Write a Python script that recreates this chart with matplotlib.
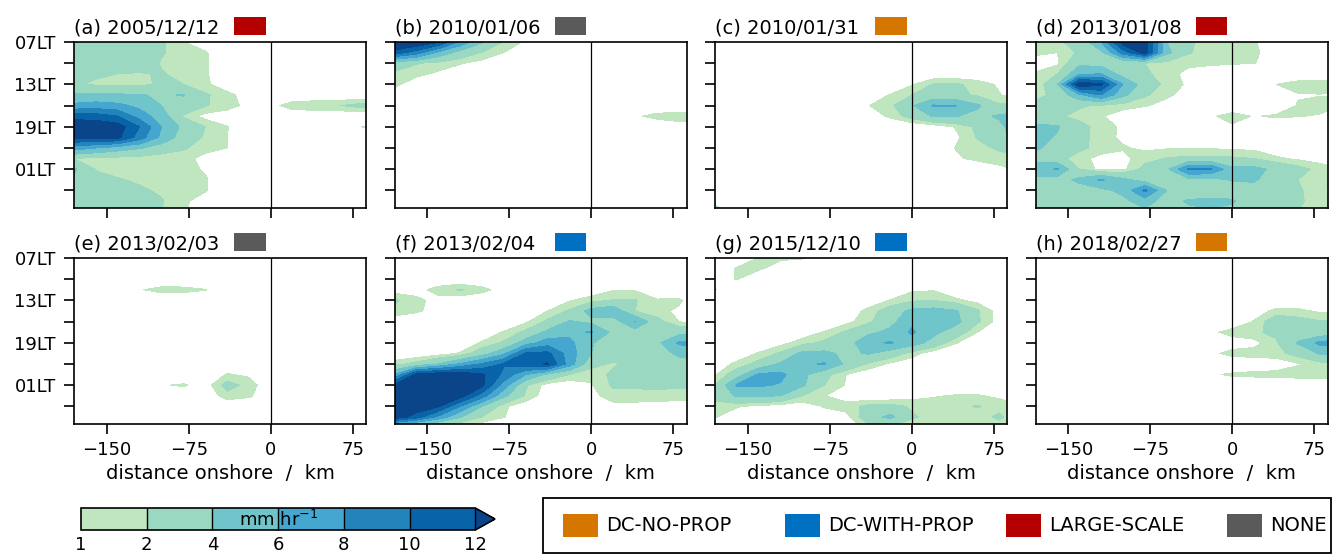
import numpy as np
import matplotlib
matplotlib.use("Agg")
import matplotlib.pyplot as plt
from matplotlib.colors import ListedColormap, BoundaryNorm
from matplotlib.patches import Rectangle

# grid: distance onshore (km) and local time (hours after 00LT, 25 = 01LT next day)
dist = [-180, -160, -140, -120, -100, -80, -60, -40, -20, 0, 20, 40, 60, 80, 90]
hours = [7, 8.5, 10, 11.5, 13, 14.5, 16, 17.5, 19, 20.5, 22, 23.5, 25, 26.5, 28, 29.5, 31]

titles = ["(a) 2005/12/12", "(b) 2010/01/06", "(c) 2010/01/31", "(d) 2013/01/08",
          "(e) 2013/02/03", "(f) 2013/02/04", "(g) 2015/12/10", "(h) 2018/02/27"]
case_type = ["LARGE-SCALE", "NONE", "DC-NO-PROP", "LARGE-SCALE",
             "NONE", "DC-WITH-PROP", "DC-WITH-PROP", "DC-NO-PROP"]
type_names = ["DC-NO-PROP", "DC-WITH-PROP", "LARGE-SCALE", "NONE"]
type_colors = ["#d47600", "#0070c2", "#b50000", "#5a5a5a"]

levels = [1, 2, 4, 6, 8, 10, 12]
ytick_vals = [7, 10, 13, 16, 19, 22, 25, 28]
ytick_labels = ["07LT", "", "13LT", "", "19LT", "", "01LT", ""]
xtick_vals = [-150, -75, 0, 75]

# rain rate (mm/hr), rows = hours, cols = dist
rain_a = [
    [2.5, 3.0, 3.0, 3.0, 2.2, 1.05, 0.4, 0, 0, 0, 0, 0, 0, 0, 0],
    [3.0, 3.0, 3.2, 3.0, 2.1, 1.6, 1.1, 0.3, 0, 0, 0, 0, 0, 0, 0],
    [3.0, 3.0, 3.0, 2.8, 1.9, 1.5, 1.1, 0.4, 0, 0, 0, 0, 0, 0, 0],
    [2.5, 2.2, 2.0, 1.9, 2.1, 1.6, 1.1, 0.4, 0, 0, 0, 0, 0, 0, 0],
    [2.2, 1.8, 1.6, 1.7, 2.2, 2.0, 1.2, 0.4, 0, 0, 0, 0, 0, 0, 0],
    [4.2, 4.5, 4.3, 4.1, 3.8, 4.1, 2.2, 1.3, 0.5, 0, 0, 0, 0, 0, 0],
    [6.5, 6.8, 6.5, 5.5, 4.0, 3.2, 2.1, 1.5, 0.6, 0.6, 1.6, 1.8, 1.9, 2.4, 2.6],
    [11, 11, 10, 7, 5, 1.8, 0.6, 0.3, 0, 0, 0, 0, 0, 0, 0],
    [14, 13.5, 13, 10, 6, 3.5, 2.0, 1.05, 0.3, 0, 0, 0, 0, 0.9, 1.2],
    [12.5, 12.5, 12.5, 9, 5.5, 3.0, 1.8, 1.0, 0.3, 0, 0, 0, 0, 0, 0],
    [7, 6, 5, 4.2, 3.0, 2.2, 1.3, 1.0, 0.2, 0, 0, 0, 0, 0, 0],
    [1.9, 1.6, 1.5, 1.4, 1.2, 1.3, 0.7, 0, 0, 0, 0, 0, 0, 0, 0],
    [4.3, 1.9, 1.6, 1.5, 1.4, 1.3, 0.9, 0.2, 0, 0, 0, 0, 0, 0, 0],
    [3.6, 2.5, 2.1, 1.8, 1.5, 1.4, 1.1, 0.3, 0, 0, 0, 0, 0, 0, 0],
    [3.0, 2.8, 2.5, 2.2, 1.8, 1.5, 1.1, 0.3, 0, 0, 0, 0, 0, 0, 0],
    [3.5, 3.0, 2.8, 2.5, 2.1, 1.2, 0.5, 0, 0, 0, 0, 0, 0, 0, 0],
    [4.2, 3.0, 2.8, 2.4, 2.0, 1.1, 0.4, 0, 0, 0, 0, 0, 0, 0, 0],
]
rain_b = [
    [15, 14, 12.2, 7.5, 4.2, 1.8, 0.8, 0, 0, 0, 0, 0, 0, 0, 0],
    [11, 9, 5.5, 3.2, 1.9, 1.0, 0.2, 0, 0, 0, 0, 0, 0, 0, 0],
    [3.0, 2.1, 1.6, 1.1, 0.6, 0, 0, 0, 0, 0, 0, 0, 0, 0, 0],
    [1.7, 1.3, 0.8, 0.3, 0, 0, 0, 0, 0, 0, 0, 0, 0, 0, 0],
    [1.3, 0.3, 0, 0, 0, 0, 0, 0, 0, 0, 0, 0, 0, 0, 0],
    [0.2, 0, 0, 0, 0, 0, 0, 0, 0, 0, 0, 0, 0, 0, 0],
    [0, 0, 0, 0, 0, 0, 0, 0, 0, 0, 0, 0, 0, 0, 0],
    [0, 0, 0, 0, 0, 0, 0, 0, 0, 0, 0, 0.8, 1.4, 1.5, 1.5],
    [0, 0, 0, 0, 0, 0, 0, 0, 0, 0, 0, 0, 0, 0.5, 0.6],
    [0, 0, 0, 0, 0, 0, 0, 0, 0, 0, 0, 0, 0, 0, 0],
    [0, 0, 0, 0, 0, 0, 0, 0, 0, 0, 0, 0, 0, 0, 0],
    [0, 0, 0, 0, 0, 0, 0, 0, 0, 0, 0, 0, 0, 0, 0],
    [0, 0, 0, 0, 0, 0, 0, 0, 0, 0, 0, 0, 0, 0, 0],
    [0, 0, 0, 0, 0, 0, 0, 0, 0, 0, 0, 0, 0, 0, 0],
    [0, 0, 0, 0, 0, 0, 0, 0, 0, 0, 0, 0, 0, 0, 0],
    [0.3, 0, 0, 0, 0, 0, 0, 0, 0, 0, 0, 0, 0, 0, 0],
    [1.4, 0.4, 0, 0, 0, 0, 0, 0, 0, 0, 0, 0, 0, 0, 0],
]
rain_c = [
    [0, 0, 0, 0, 0, 0, 0, 0, 0, 0, 0, 0, 0, 0, 0],
    [0, 0, 0, 0, 0, 0, 0, 0, 0, 0, 0, 0, 0, 0, 0],
    [0, 0, 0, 0, 0, 0, 0, 0, 0, 0, 0, 0, 0, 0, 0],
    [0, 0, 0, 0, 0, 0, 0, 0, 0, 0, 0, 0, 0, 0, 0],
    [0, 0, 0, 0, 0, 0, 0, 0, 0, 0.9, 2.1, 2.2, 1.6, 0.8, 0.5],
    [0, 0, 0, 0, 0, 0, 0, 0.3, 1.05, 2.0, 2.6, 2.4, 1.8, 1.1, 0.6],
    [0, 0, 0, 0, 0, 0, 0, 0.95, 1.6, 3.8, 6.2, 6.1, 4.3, 2.2, 2.3],
    [0, 0, 0, 0, 0, 0, 0, 0.3, 1.2, 2.6, 4.2, 4.1, 3.4, 4.3, 4.6],
    [0, 0, 0, 0, 0, 0, 0, 0, 0, 0, 0.3, 1.1, 2.3, 3.5, 4.5],
    [0, 0, 0, 0, 0, 0, 0, 0, 0, 0, 0, 0.7, 2.1, 3.2, 4.2],
    [0, 0, 0, 0, 0, 0, 0, 0, 0, 0, 0, 1.05, 1.6, 2.2, 2.5],
    [0, 0, 0, 0, 0, 0, 0, 0, 0, 0, 0, 0.8, 1.3, 1.5, 1.6],
    [0, 0, 0, 0, 0, 0, 0, 0, 0, 0, 0, 0, 0, 0.7, 0.95],
    [0, 0, 0, 0, 0, 0, 0, 0, 0, 0, 0, 0, 0, 0, 0],
    [0, 0, 0, 0, 0, 0, 0, 0, 0, 0, 0, 0, 0, 0, 0],
    [0.7, 0, 0, 0, 0, 0, 0, 0, 0, 0, 0, 0, 0, 0, 0],
    [1.5, 0.5, 0, 0, 0, 0, 0, 0, 0, 0, 0, 0, 0, 0, 0],
]
rain_d = [
    [1.5, 1.8, 2.5, 6, 13, 13, 4, 2.2, 1.5, 1.2, 1.1, 0.3, 0, 0, 0],
    [1.2, 1.0, 2.2, 3.5, 9, 13, 4.5, 2.1, 1.5, 1.3, 1.2, 0.4, 0, 0, 0],
    [0.5, 0.8, 3.5, 3.2, 2.2, 2.0, 1.6, 1.3, 1.2, 1.1, 1.05, 0.3, 0, 0, 0],
    [1.1, 2.0, 5.5, 6, 3, 2.2, 1.5, 0.6, 0.3, 0, 0, 0, 0, 0, 0],
    [0.8, 4.0, 13.5, 12.5, 6, 3.0, 1.6, 0.8, 0, 0, 0, 1.0, 1.5, 1.6, 1.5],
    [1.5, 2.5, 5.5, 8, 4.5, 2.2, 1.2, 0.6, 0, 0, 0, 0.5, 0.9, 0.95, 0.9],
    [2.5, 2.3, 2.2, 1.8, 1.4, 1.1, 0.6, 0, 0, 0, 0, 0, 1.1, 1.4, 1.3],
    [2.6, 2.2, 1.6, 1.1, 0.4, 0, 0, 0, 0.8, 1.5, 0.9, 1.2, 1.05, 0.9, 0.5],
    [4.5, 4.2, 2.5, 1.5, 0.8, 0.3, 0, 0, 0, 0.8, 0, 0, 0, 0, 0],
    [4.6, 3.8, 2.5, 1.4, 0.8, 0.5, 0, 0, 0, 0, 0, 0, 0, 0, 0],
    [4.2, 3.5, 2.3, 1.6, 1.1, 0.8, 0.9, 0.9, 0.9, 0.8, 0.7, 0.3, 0, 0, 0],
    [3.5, 2.5, 1.4, 0.6, 0.7, 1.5, 2.1, 2.3, 2.3, 2.2, 2.0, 1.2, 0.8, 0.5, 0.3],
    [5, 6.2, 2.0, 0.6, 0.7, 2.5, 3.5, 8.3, 8.2, 4.5, 4.6, 3.5, 2.5, 1.6, 1.3],
    [3.5, 3, 4.5, 6.3, 4.5, 3, 3.2, 3.5, 3.2, 4.2, 4.3, 2.5, 2, 1.5, 1.0],
    [3, 2.5, 3, 3.5, 4.5, 8.5, 4, 2.2, 2.5, 3, 3, 2.5, 2.2, 1.3, 0.8],
    [3, 2.5, 2.5, 3, 3.5, 5, 3, 4.3, 4.5, 4.2, 2.8, 2.5, 2.2, 1.5, 0.9],
    [2.5, 2.4, 2.5, 2.8, 3, 3.5, 3, 3.5, 3.8, 3.5, 2.6, 2.3, 2, 1.4, 0.9],
]
rain_e = [
    [0, 0, 0, 0, 0, 0, 0, 0, 0, 0, 0, 0, 0, 0, 0],
    [0, 0, 0, 0, 0, 0, 0, 0, 0, 0, 0, 0, 0, 0, 0],
    [0, 0, 0, 0, 0, 0, 0, 0, 0, 0, 0, 0, 0, 0, 0],
    [0, 0, 0, 0.9, 1.4, 1.35, 1.05, 0.4, 0, 0, 0, 0, 0, 0, 0],
    [0, 0, 0, 0, 0, 0, 0, 0, 0, 0, 0, 0, 0, 0, 0],
    [0, 0, 0, 0, 0, 0, 0, 0, 0, 0, 0, 0, 0, 0, 0],
    [0, 0, 0, 0, 0, 0, 0, 0, 0, 0, 0, 0, 0, 0, 0],
    [0, 0, 0, 0, 0, 0, 0, 0, 0, 0, 0, 0, 0, 0, 0],
    [0, 0, 0, 0, 0, 0, 0, 0, 0, 0, 0, 0, 0, 0, 0],
    [0, 0, 0, 0, 0, 0, 0, 0, 0, 0, 0, 0, 0, 0, 0],
    [0, 0, 0, 0, 0, 0, 0, 0, 0, 0, 0, 0, 0, 0, 0],
    [0, 0, 0, 0, 0, 0, 0, 1.1, 0.8, 0, 0, 0, 0, 0, 0],
    [0, 0, 0, 0, 0.9, 1.15, 0.4, 2.5, 1.6, 0, 0, 0, 0, 0, 0],
    [0, 0, 0, 0, 0, 0, 0, 1.6, 1.2, 0, 0, 0, 0, 0, 0],
    [0, 0, 0, 0, 0, 0, 0, 0, 0, 0, 0, 0, 0, 0, 0],
    [0, 0, 0, 0, 0, 0, 0, 0, 0, 0, 0, 0, 0, 0, 0],
    [0, 0, 0, 0, 0, 0, 0, 0, 0, 0, 0, 0, 0, 0, 0],
]
rain_f = [
    [0, 0, 0, 0, 0, 0, 0, 0, 0, 0, 0, 0, 0, 0, 0],
    [0, 0, 0, 0, 0, 0, 0, 0, 0, 0, 0, 0, 0, 0, 0],
    [0, 0, 0, 0, 0, 0, 0, 0, 0, 0, 0, 0, 0, 0, 0],
    [0.4, 0.5, 1.5, 2.1, 1.4, 0.4, 0, 0, 0, 0.3, 0.9, 0.9, 0.3, 0, 0],
    [2.2, 1.3, 0.6, 0.2, 0, 0, 0, 0.3, 0.9, 1.5, 2.1, 2.1, 1.1, 1.2, 0.6],
    [1.6, 1.2, 0.5, 0, 0, 0, 0.3, 1.0, 2.2, 4.8, 5.5, 2.0, 1.3, 0.8, 0.3],
    [0.3, 0, 0, 0, 0, 0, 0.8, 2.3, 4.2, 3.5, 3, 6.1, 2.5, 1.0, 0.5],
    [0, 0, 0, 0, 0.3, 1.1, 2.3, 4.5, 5.5, 6.2, 3.5, 3, 2.5, 3.2, 3.5],
    [0, 0, 0, 0.3, 1.1, 2.2, 5.0, 7, 6.5, 4.2, 2.5, 1.9, 3.5, 6.3, 6.5],
    [0, 0, 0.4, 1.1, 3, 5.5, 10.3, 10.5, 7, 4, 3, 2.6, 2.8, 4.5, 5],
    [1.5, 2.5, 4.0, 6.2, 8.2, 10.2, 11, 12.2, 7, 2.5, 1.8, 2.5, 3, 3, 3],
    [6, 12.5, 13.5, 13.5, 12.3, 9.5, 6, 3.5, 2.0, 1.3, 2.3, 2.5, 2.5, 2.5, 2.5],
    [12.5, 14, 14.5, 14, 12.5, 7, 2.2, 0.5, 0.2, 0.9, 2.2, 2.2, 2.3, 2.2, 2.2],
    [14.5, 14.5, 14, 13, 9, 4.5, 1.8, 0.3, 0, 0.6, 1.6, 1.6, 1.6, 1.5, 1.5],
    [14, 13.5, 12.2, 8, 4, 1.2, 0.3, 0, 0, 0, 0.6, 0.6, 0.5, 0.4, 0.3],
    [13.5, 11, 7.5, 4.2, 2.0, 1.05, 0.3, 0, 0, 0, 0, 0, 0, 0, 0],
    [3, 0.8, 0.3, 0, 0, 0, 0, 0, 0, 0, 0, 0, 0, 0, 0],
]
rain_g = [
    [0, 0.2, 1.05, 1.15, 1.1, 0.4, 0, 0, 0, 0, 0, 0, 0, 0, 0],
    [0.2, 1.1, 1.15, 0.5, 0, 0, 0, 0, 0, 0, 0, 0, 0, 0, 0],
    [0.6, 1.05, 0.2, 0, 0, 0, 0, 0, 0, 0, 0, 0, 0, 0, 0],
    [1.05, 0, 0, 0, 0, 0, 0, 0, 0, 0.8, 0.9, 0, 0, 0, 0],
    [0, 0, 0, 0, 0, 0, 0, 0.3, 1.05, 1.8, 2.0, 1.3, 0.6, 0, 0],
    [0, 0, 0, 0, 0, 0, 0.3, 1.3, 2.8, 4.5, 4.8, 4.2, 2.2, 0.4, 0],
    [0, 0, 0, 0, 0, 0, 0.6, 1.7, 3.3, 5.6, 5.5, 4.6, 2.2, 0.5, 0],
    [0, 0, 0, 0, 0.3, 1.1, 2.2, 3.5, 4.5, 6.3, 4.5, 3, 1.0, 0.2, 0],
    [0, 0, 0, 0.6, 1.5, 2.3, 3, 5.5, 6.2, 5, 3.2, 1.1, 0, 0, 0],
    [0, 0.4, 1.1, 2.2, 4.5, 4.5, 3.5, 4.2, 3.0, 1.5, 0.3, 0, 0, 0, 0],
    [0.5, 1.2, 2.5, 4.3, 5.6, 6.2, 3.5, 1.8, 0.8, 0.3, 0, 0, 0, 0, 0],
    [0.8, 3, 6.3, 6.5, 4.5, 2.5, 1.0, 0.2, 0, 0, 0, 0, 0, 0, 0],
    [2, 6.2, 6.3, 5.8, 4.3, 2, 0.9, 0, 0, 0, 0, 0, 0, 0, 0],
    [2.2, 4.3, 4.3, 4.0, 2.0, 1.05, 0.3, 0, 0, 0.5, 0.9, 1.1, 1.1, 0.8, 0.6],
    [1.8, 1.1, 0.7, 0.4, 0.3, 1.1, 1.5, 2.3, 2.5, 1.8, 1.5, 1.7, 2.1, 1.5, 1.3],
    [1.1, 0.3, 0, 0, 0, 0.3, 0.6, 3.0, 4.5, 2.2, 1.5, 1.3, 1.4, 2.3, 1.5],
    [0, 0, 0, 0, 0, 0, 0.3, 1.3, 1.5, 1.2, 1.3, 1.3, 1.2, 1.3, 1.2],
]
rain_h = [
    [0, 0, 0, 0, 0, 0, 0, 0, 0, 0, 0, 0, 0, 0, 0],
    [0, 0, 0, 0, 0, 0, 0, 0, 0, 0, 0, 0, 0, 0, 0],
    [0, 0, 0, 0, 0, 0, 0, 0, 0, 0, 0, 0, 0, 0, 0],
    [0, 0, 0, 0, 0, 0, 0, 0, 0, 0, 0, 0, 0, 0, 0],
    [0, 0, 0, 0, 0, 0, 0, 0, 0, 0, 0, 0, 0, 0, 0],
    [0, 0, 0, 0, 0, 0, 0, 0, 0, 0, 0.4, 1.3, 1.3, 0.8, 0.8],
    [0, 0, 0, 0, 0, 0, 0, 0, 0, 0, 1.1, 3.0, 2.5, 2.1, 2.2],
    [0, 0, 0, 0, 0, 0, 0, 0, 0.7, 1.5, 1.8, 2.3, 2.6, 2.5, 2.6],
    [0, 0, 0, 0, 0, 0, 0, 0, 0, 0.3, 0.6, 1.8, 4.2, 6.5, 6.8],
    [0, 0, 0, 0, 0, 0, 0, 0, 0.7, 1.4, 1.5, 1.6, 2.5, 4.2, 4.5],
    [0, 0, 0, 0, 0, 0, 0, 0, 0, 0, 0.2, 0.3, 0.9, 1.5, 1.6],
    [0, 0, 0, 0, 0, 0, 0, 0, 0.8, 1.2, 1.3, 1.4, 1.5, 1.6, 1.7],
    [0, 0, 0, 0, 0, 0, 0, 0, 0, 0, 0, 0, 0, 0, 0],
    [0, 0, 0, 0, 0, 0, 0, 0, 0, 0, 0, 0, 0, 0, 0],
    [0, 0, 0, 0, 0, 0, 0, 0, 0, 0, 0, 0, 0, 0, 0],
    [0, 0, 0, 0, 0, 0, 0, 0, 0, 0, 0, 0, 0, 0, 0],
    [0, 0, 0, 0, 0, 0, 0, 0, 0, 0, 0, 0, 0, 0, 0],
]
fields = [rain_a, rain_b, rain_c, rain_d, rain_e, rain_f, rain_g, rain_h]

shade_colors = ["#c0e6c0", "#9ad8c1", "#6fc5c9", "#45a7d0", "#2384bb", "#0863a8"]
cmap = ListedColormap(shade_colors)
cmap.set_over("#0b4589")
norm = BoundaryNorm(levels, cmap.N)

W, H = 1335, 554
def px(l, t, w, h):
    return [l / W, 1 - (t + h) / H, w / W, h / H]

fig = plt.figure(figsize=(W / 100, H / 100), dpi=100)

lefts = [74, 394.5, 715, 1035.5]
tops = [42, 258]
for i in range(8):
    r, c = divmod(i, 4)
    ax = fig.add_axes(px(lefts[c], tops[r], 292, 166))
    z = np.array(fields[i])
    cs = ax.contourf(dist, hours, z, levels=levels, cmap=cmap, norm=norm, extend="max")
    ax.axvline(0, color="k", lw=0.9)
    ax.set_xlim(-180, 87)
    ax.set_ylim(30.5, 7)
    ax.set_yticks(ytick_vals)
    ax.set_xticks(xtick_vals)
    if c == 0:
        ax.set_yticklabels(ytick_labels, fontsize=13)
    else:
        ax.set_yticklabels([])
    if r == 1:
        ax.set_xticklabels(["\u2212150", "\u221275", "0", "75"], fontsize=13)
        ax.set_xlabel("distance onshore  /  km", fontsize=14)
    else:
        ax.set_xticklabels([])
    ax.tick_params(length=7, width=1.2)
    ax.tick_params(axis="y", pad=6)
    ax.tick_params(axis="x", pad=5)
    for s in ax.spines.values():
        s.set_linewidth(1.2)
    ax.set_title(titles[i], loc="left", fontsize=14, pad=6)
    col = type_colors[type_names.index(case_type[i])]
    ax.add_patch(Rectangle((0.548, 1.042), 0.109, 0.108, transform=ax.transAxes,
                           facecolor=col, edgecolor="none", clip_on=False))

# colorbar
cax = fig.add_axes(px(81, 508, 414, 22))
cb = fig.colorbar(cs, cax=cax, orientation="horizontal", ticks=levels,
                  drawedges=True, extendfrac=0.05)
cb.outline.set_linewidth(1.2)
cb.dividers.set_linewidth(1.0)
cax.tick_params(length=0, labelsize=13, pad=4)
cax.set_xticklabels([str(v) for v in levels])
cax.text(0.5, 0.45, "mm hr$^{-1}$", transform=cax.transAxes, ha="center",
         va="center", fontsize=13)

# legend of case types
fig.add_artist(Rectangle((543 / W, 1 - 553 / H), (1331 - 543) / W, 55 / H,
                         transform=fig.transFigure, facecolor="white",
                         edgecolor="black", lw=1.3))
starts = [563, 785, 1006, 1227]
for k in range(4):
    x0 = starts[k]
    fig.add_artist(Rectangle((x0 / W, 1 - 537 / H), 35 / W, 23 / H,
                             transform=fig.transFigure, facecolor=type_colors[k],
                             edgecolor="none"))
    fig.text((x0 + 43) / W, 1 - 525.5 / H, type_names[k], ha="left", va="center",
             fontsize=14)

fig.savefig("out.png", dpi=100)
